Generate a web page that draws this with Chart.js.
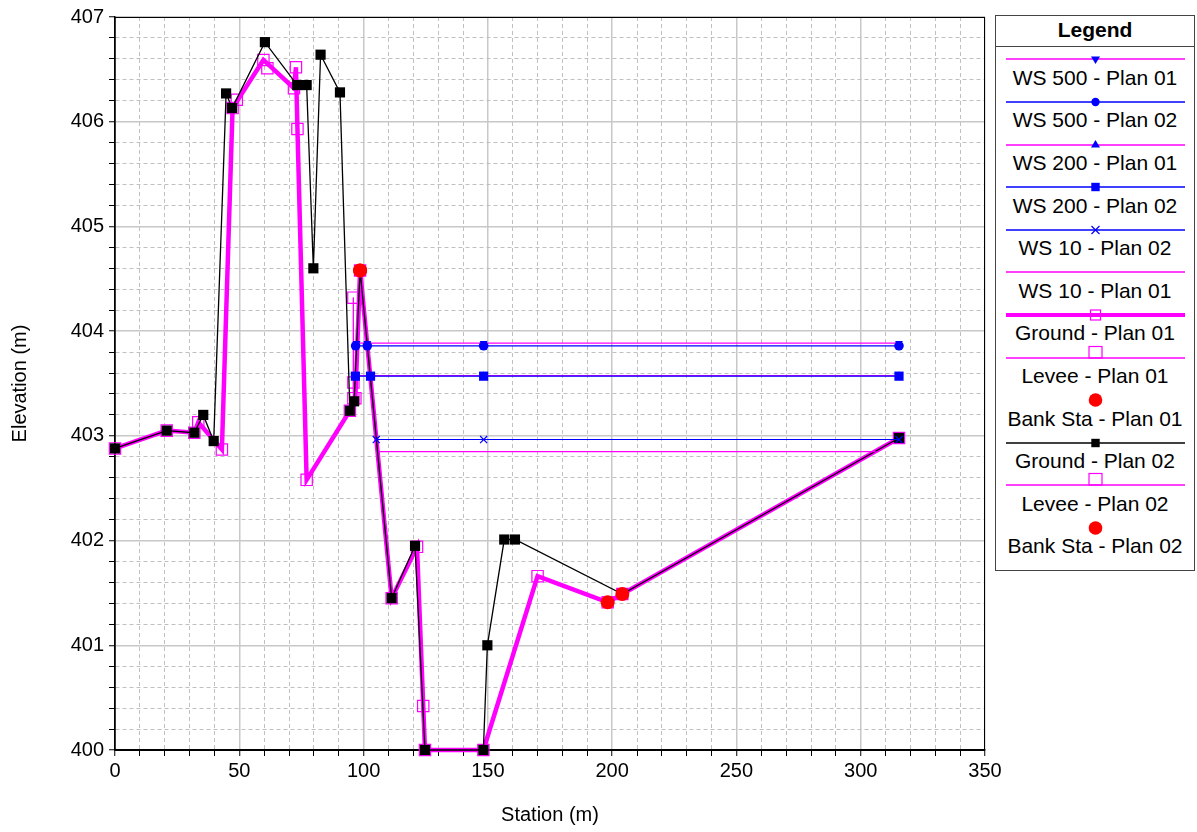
<!DOCTYPE html>
<html><head><meta charset="utf-8">
<script src="https://cdn.jsdelivr.net/npm/chart.js@4.4.1/dist/chart.umd.min.js"></script>
<style>
html,body{margin:0;padding:0;background:#fff;}
#wrap{position:relative;width:1197px;height:832px;overflow:hidden;}
#c{position:absolute;left:0;top:0;}
#legend{position:absolute;left:995px;top:15px;width:200px;height:556px;border:1px solid #444;box-sizing:border-box;background:#fff;font-family:"Liberation Sans",Arial,sans-serif;color:#000;}
#legend .title{position:absolute;left:0;top:0;width:100%;height:30px;border-bottom:1px solid #444;text-align:center;font-weight:bold;font-size:21px;line-height:27px;}
#legend .txt{position:absolute;left:0;width:100%;text-align:center;font-size:21px;line-height:24px;white-space:nowrap;}
#legend svg{position:absolute;left:10px;}
</style></head>
<body>
<div id="wrap">
<canvas id="c" width="1197" height="832"></canvas>
<div id="legend"><div class="title">Legend</div></div>
</div>
<script>
// ---------- DATA ----------
const groundPlan02Station = [0,20.8,31.9,35.5,39.7,44.7,47.1,60.3,73.3,77.1,79.8,82.7,90.5,94.5,96.2,98.6,111.3,120.7,124.7,148.2,149.8,156.6,160.9,204.1,315.4];
const groundPlan02Elev    = [402.88,403.05,403.03,403.20,402.95,406.27,406.13,406.76,406.35,406.35,404.60,406.64,406.28,403.24,403.33,404.58,401.45,401.95,400.00,400.00,401.00,402.01,402.01,401.49,402.98];

const groundPlan01Station = [0,20.8,31.9,33.5,43.0,47.3,59.7,72.0,72.8,73.4,77.1,94.5,96.7,98.6,111.3,121.5,124.0,124.7,148.2,170.0,198.2,204.1,315.4];
const groundPlan01Elev    = [402.88,403.05,403.03,403.13,402.87,406.13,406.59,406.32,406.52,405.93,402.58,403.24,403.36,404.58,401.45,401.94,400.42,400.00,400.00,401.66,401.41,401.49,402.98];

const leveePlan01Station = [49.0,61.3,95.9];
const leveePlan01Elev    = [406.21,406.51,403.51];
const leveePlan02Station = [95.9,95.9];
const leveePlan02Elev    = [404.32,403.36];

const bankPlan01Station = [98.6,198.2];
const bankPlan01Elev    = [404.58,401.41];
const bankPlan02Station = [98.6,204.1];
const bankPlan02Elev    = [404.58,401.49];

const ws500Plan01Station = [97.2,101.5,148.3,315.4];
const ws500Plan01Elev    = [403.885,403.885,403.885,403.885];
const ws500Plan02Station = [96.8,101.5,148.3,315.4];
const ws500Plan02Elev    = [403.86,403.86,403.86,403.86];
const ws200Plan01Station = [96.7,102.8,148.3,315.4];
const ws200Plan01Elev    = [403.575,403.575,403.575,403.575];
const ws200Plan02Station = [96.7,102.8,148.3,315.4];
const ws200Plan02Elev    = [403.57,403.57,403.57,403.57];
const ws10Plan02Station  = [105.1,148.3,315.4];
const ws10Plan02Elev     = [402.965,402.965,402.965];
const ws10Plan01Station  = [106.2,306.0];
const ws10Plan01Elev     = [402.85,402.85];

const xTickMin = 0, xTickMax = 350, xMinorStep = 10, xMajorStep = 50;
const yTickMin = 400, yTickMax = 407, yMinorStep = 0.2;

const legendLabels = ["WS 500 - Plan 01","WS 500 - Plan 02","WS 200 - Plan 01","WS 200 - Plan 02","WS 10 - Plan 02","WS 10 - Plan 01","Ground - Plan 01","Levee - Plan 01","Bank Sta - Plan 01","Ground - Plan 02","Levee - Plan 02","Bank Sta - Plan 02"];

// ---------- BUILD ----------
const zip = (xs, ys) => xs.map((x, i) => ({x: x, y: ys[i]}));
const MAG = '#ff00ff', BLUE = '#0000ff', RED = '#ff0000';

const datasets = [
  {label: legendLabels[8], data: zip(bankPlan01Station, bankPlan01Elev), showLine: false, pointStyle: 'circle', pointRadius: 7, backgroundColor: RED, borderColor: RED, pointBorderWidth: 0, order: 0},
  {label: legendLabels[11], data: zip(bankPlan02Station, bankPlan02Elev), showLine: false, pointStyle: 'circle', pointRadius: 7, backgroundColor: RED, borderColor: RED, pointBorderWidth: 0, order: 0},
  {label: legendLabels[1], data: zip(ws500Plan02Station, ws500Plan02Elev), borderColor: BLUE, borderWidth: 1.2, pointStyle: 'circle', pointRadius: 4.8, backgroundColor: BLUE, pointBorderWidth: 0, order: 1},
  {label: legendLabels[0], data: zip(ws500Plan01Station, ws500Plan01Elev), borderColor: MAG, borderWidth: 1.2, pointStyle: 'triangle', pointRotation: 180, pointRadius: 4.5, pointBackgroundColor: BLUE, pointBorderColor: BLUE, pointBorderWidth: 0, order: 2},
  {label: legendLabels[3], data: zip(ws200Plan02Station, ws200Plan02Elev), borderColor: BLUE, borderWidth: 1.2, pointStyle: 'rect', pointRadius: 6.5, backgroundColor: BLUE, pointBorderWidth: 0, order: 1},
  {label: legendLabels[2], data: zip(ws200Plan01Station, ws200Plan01Elev), borderColor: MAG, borderWidth: 1.2, pointStyle: 'triangle', pointRadius: 4.5, pointBackgroundColor: BLUE, pointBorderColor: BLUE, pointBorderWidth: 0, order: 2},
  {label: legendLabels[4], data: zip(ws10Plan02Station, ws10Plan02Elev), borderColor: BLUE, borderWidth: 1.2, pointStyle: 'crossRot', pointRadius: 5, pointBorderColor: BLUE, pointBorderWidth: 1.2, order: 1},
  {label: legendLabels[5], data: zip(ws10Plan01Station, ws10Plan01Elev), borderColor: MAG, borderWidth: 1.2, pointRadius: 0, order: 2},
  {label: legendLabels[9], data: zip(groundPlan02Station, groundPlan02Elev), borderColor: '#000', borderWidth: 1.3, pointStyle: 'rect', pointRadius: 7.2, pointBackgroundColor: '#000', pointBorderColor: '#000', pointBorderWidth: 0, order: 5},
  {label: legendLabels[7], data: zip(leveePlan01Station, leveePlan01Elev), showLine: false, pointStyle: 'rect', pointRadius: 8, pointBackgroundColor: 'rgba(0,0,0,0)', pointBorderColor: MAG, pointBorderWidth: 1.2, order: 6},
  {label: legendLabels[10], data: zip(leveePlan02Station, leveePlan02Elev), borderColor: MAG, borderWidth: 1, pointStyle: 'rect', pointRadius: 8, pointBackgroundColor: 'rgba(0,0,0,0)', pointBorderColor: MAG, pointBorderWidth: 1.2, order: 6},
  {label: legendLabels[6], data: zip(groundPlan01Station, groundPlan01Elev), borderColor: MAG, borderWidth: 4.5, pointStyle: 'rect', pointRadius: 8, pointBackgroundColor: 'rgba(0,0,0,0)', pointBorderColor: MAG, pointBorderWidth: 1.2, order: 7}
];
datasets.forEach(d => { d.clip = false; d.tension = 0; d.fill = false; });

const isMajorX = v => Math.abs(v / xMajorStep - Math.round(v / xMajorStep)) < 1e-6;
const isMajorY = v => Math.abs(v - Math.round(v)) < 1e-6;

Chart.defaults.font.family = "'Liberation Sans', Arial, sans-serif";
Chart.defaults.color = '#000';

const frame = {
  id: 'frame',
  beforeDatasetsDraw(chart) {
    const {ctx, chartArea: a} = chart;
    ctx.save();
    ctx.strokeStyle = '#000';
    ctx.lineWidth = 1;
    ctx.strokeRect(a.left, a.top + 0.5, a.right - a.left - 0.5, a.bottom - a.top);
    ctx.restore();
  }
};

new Chart(document.getElementById('c'), {
  type: 'line',
  data: {datasets: datasets},
  plugins: [frame],
  options: {
    responsive: false,
    animation: false,
    events: [],
    layout: {padding: {left: 0, top: 16, right: 212, bottom: 0}},
    plugins: {legend: {display: false}, tooltip: {enabled: false}},
    scales: {
      x: {
        type: 'linear', min: xTickMin, max: xTickMax, position: 'bottom',
        afterFit: s => { s.height = 82; },
        ticks: {stepSize: xMinorStep, autoSkip: false, maxRotation: 0, minRotation: 0, maxTicksLimit: 1000, font: {size: 20}, padding: 3, color: '#000',
          callback: v => isMajorX(v) ? String(Math.round(v)) : ''},
        grid: {
          color: c => (c.tick && isMajorX(c.tick.value)) ? '#c8c8c8' : '#c0c0c0',
          lineWidth: c => (c.tick && isMajorX(c.tick.value)) ? 1.5 : 1,
          drawTicks: true, tickLength: 6, tickColor: '#000', tickWidth: 1
        },
        border: {display: true, color: '#000', width: 1.5,
          dash: c => (c.tick && !isMajorX(c.tick.value)) ? [4, 3] : []},
        title: {display: true, text: 'Station (m)', color: '#000', font: {size: 20}, padding: {top: 0, bottom: 5}}
      },
      y: {
        type: 'linear', min: yTickMin, max: yTickMax, position: 'left',
        afterFit: s => { s.width = 115; },
        ticks: {stepSize: yMinorStep, autoSkip: false, maxTicksLimit: 1000, font: {size: 20}, padding: 5, color: '#000',
          callback: v => isMajorY(v) ? String(Math.round(v)) : ''},
        grid: {
          color: c => (c.tick && isMajorY(c.tick.value)) ? '#c8c8c8' : '#c0c0c0',
          lineWidth: c => (c.tick && isMajorY(c.tick.value)) ? 1.5 : 1,
          drawTicks: true, tickLength: 6, tickColor: '#000', tickWidth: 1
        },
        border: {display: true, color: '#000', width: 1.5,
          dash: c => (c.tick && !isMajorY(c.tick.value)) ? [4, 3] : []},
        title: {display: true, text: 'Elevation (m)', color: '#000', font: {size: 20}, padding: {top: 8, bottom: 4}}
      }
    }
  }
});

// ---------- HTML LEGEND ----------
const legendSamples = [
  {line: MAG, w: 1.5, mk: 'tdown'},
  {line: BLUE, w: 1.5, mk: 'circle'},
  {line: MAG, w: 1.5, mk: 'tup'},
  {line: BLUE, w: 1.5, mk: 'square'},
  {line: BLUE, w: 1.5, mk: 'x'},
  {line: MAG, w: 1.5, mk: null},
  {line: MAG, w: 4, mk: 'open'},
  {line: MAG, w: 1.5, mk: 'levee'},
  {line: null, mk: 'red'},
  {line: '#000', w: 1.5, mk: 'black'},
  {line: MAG, w: 1.5, mk: 'levee'},
  {line: null, mk: 'red'}
];
const lg = document.getElementById('legend');
const NS = 'http://www.w3.org/2000/svg';
legendLabels.forEach((lab, i) => {
  const lineY = 43.3 + 42.6 * i;
  const svg = document.createElementNS(NS, 'svg');
  svg.setAttribute('width', 180); svg.setAttribute('height', 30);
  svg.style.top = (lineY - 15) + 'px';
  const s = legendSamples[i];
  const cx = 89.5, cy = 15;
  let html = '';
  if (s.line) html += `<line x1="0" y1="${cy}" x2="179" y2="${cy}" stroke="${s.line}" stroke-width="${s.w}"/>`;
  switch (s.mk) {
    case 'tdown': html += `<polygon points="${cx-4.5},${cy-2.5} ${cx+4.5},${cy-2.5} ${cx},${cy+5}" fill="${BLUE}"/>`; break;
    case 'tup': html += `<polygon points="${cx-4.5},${cy+2.5} ${cx+4.5},${cy+2.5} ${cx},${cy-5}" fill="${BLUE}"/>`; break;
    case 'circle': html += `<circle cx="${cx}" cy="${cy}" r="4.2" fill="${BLUE}"/>`; break;
    case 'square': html += `<rect x="${cx-4.2}" y="${cy-4.2}" width="8.4" height="8.4" fill="${BLUE}"/>`; break;
    case 'x': html += `<path d="M${cx-4},${cy-4} L${cx+4},${cy+4} M${cx+4},${cy-4} L${cx-4},${cy+4}" stroke="${BLUE}" stroke-width="1.2"/>`; break;
    case 'open': html += `<rect x="${cx-5}" y="${cy-5}" width="10" height="10" fill="none" stroke="${MAG}" stroke-width="1.2"/>`; break;
    case 'levee': html += `<rect x="${cx-6.5}" y="${cy-11.5}" width="13" height="11.5" fill="none" stroke="${MAG}" stroke-width="1.2"/>`; break;
    case 'red': html += `<circle cx="${cx}" cy="${cy}" r="6.8" fill="${RED}"/>`; break;
    case 'black': html += `<rect x="${cx-4.2}" y="${cy-4.2}" width="8.4" height="8.4" fill="#000"/>`; break;
  }
  svg.innerHTML = html;
  lg.appendChild(svg);
  const t = document.createElement('div');
  t.className = 'txt';
  t.style.top = (lineY + 18.5 - 12) + 'px';
  t.textContent = lab;
  lg.appendChild(t);
});
</script>
</body></html>
